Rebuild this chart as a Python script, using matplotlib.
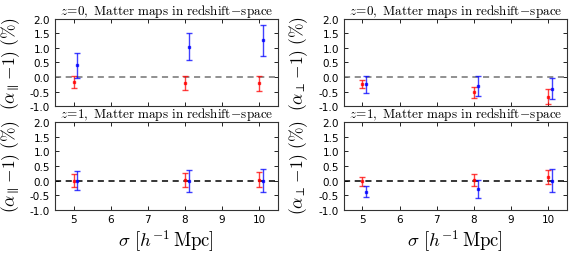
import numpy as np
import matplotlib
matplotlib.use('Agg')
import matplotlib.pyplot as plt

plt.rcParams['mathtext.fontset'] = 'cm'
plt.rcParams['axes.unicode_minus'] = False
plt.rcParams['xtick.direction'] = 'in'
plt.rcParams['ytick.direction'] = 'in'
plt.rcParams['xtick.top'] = True
plt.rcParams['ytick.right'] = True

# smoothing scales (red at sigma, blue shifted by +0.1 for visibility)
sigma = [5, 8, 10]
shift = 0.1

# z=0, alpha_par
par0_red = [-0.17, -0.19, -0.22]
par0_red_err = [0.22, 0.24, 0.27]
par0_blue = [0.40, 1.05, 1.27]
par0_blue_err = [0.42, 0.48, 0.53]

# z=0, alpha_perp
perp0_red = [-0.23, -0.53, -0.68]
perp0_red_err = [0.14, 0.20, 0.26]
perp0_blue = [-0.25, -0.32, -0.40]
perp0_blue_err = [0.29, 0.34, 0.37]

# z=1, alpha_par
par1_red = [0.0, 0.03, 0.03]
par1_red_err = [0.21, 0.24, 0.25]
par1_blue = [0.0, -0.01, 0.0]
par1_blue_err = [0.33, 0.37, 0.41]

# z=1, alpha_perp
perp1_red = [-0.03, 0.02, 0.13]
perp1_red_err = [0.15, 0.22, 0.25]
perp1_blue = [-0.38, -0.29, 0.0]
perp1_blue_err = [0.20, 0.30, 0.40]

fig = plt.figure(figsize=(5.73, 2.55), dpi=100)

lefts = [0.096, 0.600]
bottoms = [0.580, 0.174]
w = 0.389
h = 0.342

lab_par = r'$(\alpha_{\parallel}\!-\!1)\ (\%)$'
lab_perp = r'$(\alpha_{\perp}\!-\!1)\ (\%)$'

panels = [
    (0, 0, par0_red, par0_red_err, par0_blue, par0_blue_err, 0, lab_par),
    (1, 0, perp0_red, perp0_red_err, perp0_blue, perp0_blue_err, 0, lab_perp),
    (0, 1, par1_red, par1_red_err, par1_blue, par1_blue_err, 1, lab_par),
    (1, 1, perp1_red, perp1_red_err, perp1_blue, perp1_blue_err, 1, lab_perp),
]

for col, row, yr, er, yb, eb, z, ylab in panels:
    ax = fig.add_axes([lefts[col], bottoms[row], w, h])
    ax.axhline(0, color='k' if row == 1 else '0.45', ls='--', lw=1.1, dashes=(4, 3))
    ax.errorbar(sigma, yr, yerr=er, fmt='s', color='r', ms=2.0, capsize=2.5,
                elinewidth=1.0, capthick=1.0, alpha=0.75)
    ax.errorbar(np.array(sigma) + shift, yb, yerr=eb, fmt='s', color='b', ms=2.0,
                capsize=2.5, elinewidth=1.0, capthick=1.0, alpha=0.75)
    ax.set_xlim(4.5, 10.5)
    ax.set_ylim(-1.0, 2.0)
    ax.set_yticks(np.arange(-1.0, 2.01, 0.5))
    ax.set_xticks(range(5, 11))
    ax.tick_params(labelsize=7.5, length=3, width=0.6)
    for s in ax.spines.values():
        s.set_linewidth(0.8)
        s.set_color('0.2')
    ax.set_title(r'$z\!=\!%d,\ \mathrm{Matter\ maps\ in\ redshift\!-\!space}$' % z,
                 fontsize=9.5, pad=1.5)
    ax.set_ylabel(ylab, fontsize=12.5)
    ax.yaxis.set_label_coords(-0.15, 0.5)
    if row == 0:
        ax.set_xticklabels([])
    else:
        ax.set_xlabel(r'$\sigma\ [h^{-1}\,\mathrm{Mpc}]$', fontsize=13.5, labelpad=2)

fig.savefig('out.png', dpi=100, facecolor='white')
